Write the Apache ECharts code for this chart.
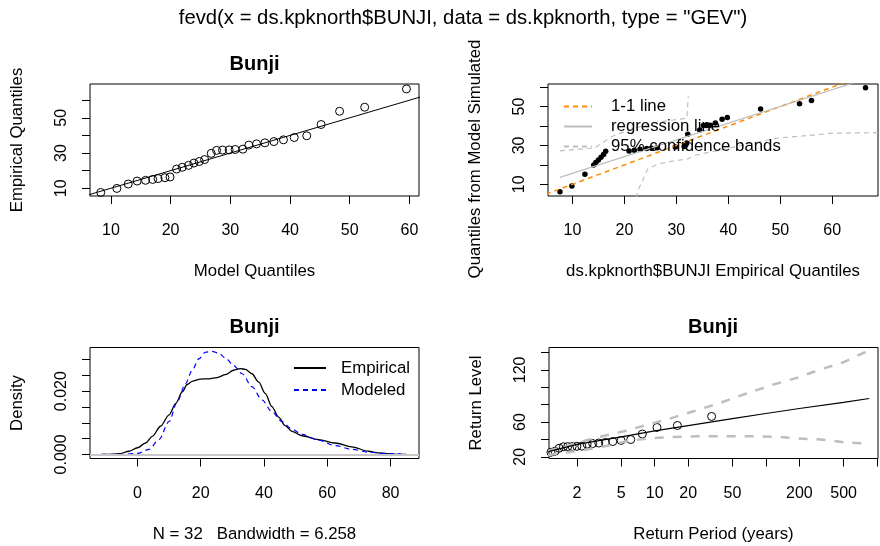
<!DOCTYPE html>
<html>
<head>
<meta charset="utf-8">
<script src="https://cdn.jsdelivr.net/npm/echarts@6/dist/echarts.min.js"></script>
<style>
html, body { margin: 0; padding: 0; background: #fff; }
#main { width: 880px; height: 546px; }
</style>
</head>
<body>
<div id="main"></div>
<script>
// sorted Bunji maxima (used by the qq plots and the return level plot)
var bunji = [7.6, 9.9, 12.4, 14.1, 14.5, 15.0, 15.5, 16.0, 16.4, 20.9, 21.9, 23.0, 24.3, 25.2, 26.3, 29.8,
    31.5, 31.7, 31.8, 32.0, 32.2, 34.5, 35.2, 35.8, 36.5, 37.5, 38.8, 39.8, 46.2, 53.7, 56.0, 66.4];
var modelQuantiles = [8.3, 11.0, 12.9, 14.4, 15.8, 17.0, 17.9, 19.05, 19.9, 21.0, 21.95, 23.0, 23.9, 24.8, 25.7, 26.8,
    27.7, 28.7, 29.8, 30.8, 32.1, 33.1, 34.4, 35.8, 37.3, 38.9, 40.7, 42.8, 45.2, 48.3, 52.5, 59.5];
var simulatedQuantiles = [6.2, 9.1, 15.2, 20.0, 21.2, 22.5, 23.9, 25.3, 27.0, 27.2, 27.5, 28.0, 28.4, 28.6, 28.8, 29.2,
    29.5, 29.8, 30.4, 31.2, 35.8, 38.0, 40.2, 40.3, 40.4, 41.6, 43.5, 44.4, 48.8, 51.4, 53.1, 59.7];
var diagonal = [0, 100];
var regressionLine = [[7.6, 13.6], [66.4, 64.2]];
var bandUpper = [[7.6, 27.2], [14.3, 28.8], [17.5, 34.5], [22.0, 39.0], [26.0, 41.8], [29.4, 43.1], [32.0, 44.0], [32.3, 55.2]];
var bandLower = [[22.2, 3.0], [22.6, 6.7], [24.5, 17.9], [26.5, 20.5], [29.7, 22.2], [32.2, 23.0], [33.8, 25.1],
    [40.0, 28.5], [49.2, 33.7], [54.0, 34.8], [60.1, 36.3], [68.8, 36.6]];

// density panel
var empiricalDensityX = [-11, -8.9, -5.8, -2.6, 0, 2.6, 4.7, 7.3, 10.0, 12.1, 14.2, 15.7, 17.3, 19.9, 22.6, 25.2, 27.8,
    30.4, 32.5, 34.1, 36.2, 38.3, 40.4, 42.5, 44.6, 46.7, 48.8, 52.0, 57.2, 62.5, 67.7, 73.0, 76.1, 80.3, 85];
var empiricalDensityY = [0, 0, 0.0002, 0.0010, 0.0021, 0.0036, 0.0057, 0.0089, 0.0125, 0.0161, 0.0198, 0.0221, 0.0231,
    0.0238, 0.0239, 0.0243, 0.0252, 0.0266, 0.0271, 0.0269, 0.0255, 0.0229, 0.0193, 0.0151, 0.0118, 0.0091, 0.0073,
    0.0059, 0.0047, 0.0036, 0.0024, 0.0010, 0.0005, 0.0001, 0];
var modeledDensityX = [-11.5, -4.7, 0, 3.7, 6.8, 10.0, 12.6, 15.2, 17.3, 19.4, 21.5, 23.6, 25.7, 27.8, 30.4, 33.1, 36.2,
    39.4, 42.5, 45.7, 48.8, 52.0, 57.2, 62.5, 67.7, 73.0, 78.2, 83.5];
var modeledDensityY = [0, 0, 0.0003, 0.0016, 0.0047, 0.0104, 0.0167, 0.0224, 0.0266, 0.0302, 0.0323, 0.0326, 0.0320,
    0.0305, 0.0281, 0.0255, 0.0214, 0.0172, 0.0135, 0.0104, 0.0080, 0.0063, 0.0045, 0.0028, 0.0016, 0.0007, 0.0003, 0.0001];

// return level panel
var returnPeriods = [0.286, 0.357, 0.417, 0.474, 0.530, 0.587, 0.645, 0.706, 0.770, 0.838, 0.910, 0.989, 1.073, 1.166,
    1.268, 1.381, 1.508, 1.650, 1.811, 1.997, 2.212, 2.466, 2.770, 3.140, 3.602, 4.195, 4.983, 6.087, 7.740, 10.49, 16.00, 32.50];
var rlPeriods = [1.1, 1.15, 2, 5, 10, 20, 50, 100, 200, 500, 850];
var rlLevels = [25.5, 26.5, 34.3, 42.8, 49.8, 55.8, 63.8, 69.8, 75.5, 82.5, 87.0];
var ciUpperPeriods = [1.1, 1.15, 2, 3, 5.26, 12.9, 22.4, 38.9, 63, 117, 190, 309, 500, 757, 850];
var ciUpper = [26.5, 27.5, 36, 42, 49.4, 62.9, 72.4, 82.0, 91.6, 103.1, 110.8, 120.4, 128.8, 139.6, 141.5];
var ciLowerPeriods = [1.1, 1.52, 2.46, 3.85, 5.63, 8.5, 13.8, 24, 42, 72, 126, 190, 309, 500, 757, 850];
var ciLower = [22.0, 24.6, 28.4, 33.0, 37.9, 41.0, 42.5, 43.7, 43.7, 43.7, 43.0, 41.0, 39.9, 36.8, 35.3, 35.0];

// ticks and labels
var qqTicks = [10, 20, 30, 40, 50, 60];
var qqYLabels = [10, 30, 50];
var densXTicks = [0, 20, 40, 60, 80];
var densYTicks = [0, 0.005, 0.010, 0.015, 0.020, 0.025, 0.030];
var densYLabels = [0, 0.020];
var rpTicks = [2, 5, 10, 20, 50, 100, 200, 500, 1000];
var rpLabels = [2, 5, 10, 20, 50, 200, 500];
var rlYTicks = [20, 40, 60, 80, 100, 120, 140];
var rlYLabels = [20, 60, 120];

function zip(xs, ys) {
    return xs.map(function (x, i) { return [x, ys[i]]; });
}

var FONT = '"Liberation Sans", Arial, sans-serif';

function makeAxis(opt) {
    var isY = opt.isY;
    return {
        type: opt.type || 'value',
        gridIndex: opt.grid,
        min: opt.min,
        max: opt.max,
        name: opt.name,
        nameLocation: 'middle',
        nameGap: isY ? 64 : 67,
        nameTextStyle: Object.assign({ color: '#000', fontSize: 16.8, fontFamily: FONT }, opt.nameStyle || {}),
        axisLine: { show: false, onZero: false },
        splitLine: { show: false },
        axisTick: { show: true, length: 8, lineStyle: { color: '#000' }, customValues: opt.ticks },
        axisLabel: {
            show: true,
            customValues: opt.labels,
            rotate: isY ? 90 : 0,
            margin: isY ? 20 : 27,
            color: '#000',
            fontSize: 16,
            fontFamily: FONT,
            formatter: opt.formatter
        }
    };
}

var chart = echarts.init(document.getElementById('main'), null, { renderer: 'canvas' });

var titleStyle = { color: '#000', fontSize: 20, fontWeight: 'bold', fontFamily: FONT };
var gridStyle = { show: true, borderColor: '#000', borderWidth: 1, backgroundColor: 'transparent', containLabel: false };
var hollow = { color: 'rgba(0,0,0,0)', borderColor: '#000', borderWidth: 1, opacity: 1 };

var option = {
    backgroundColor: '#fff',
    animation: false,
    title: [
        { text: 'fevd(x = ds.kpknorth$BUNJI, data = ds.kpknorth, type = "GEV")', left: 463, top: 8, padding: 0,
          textAlign: 'center', textStyle: { color: '#000', fontSize: 20.3, fontWeight: 'normal', fontFamily: FONT } },
        { text: 'Bunji', left: 254.5, top: 54, padding: 0, textAlign: 'center', textStyle: titleStyle },
        { text: 'Bunji', left: 254.5, top: 317, padding: 0, textAlign: 'center', textStyle: titleStyle },
        { text: 'Bunji', left: 713, top: 317, padding: 0, textAlign: 'center', textStyle: titleStyle }
    ],
    grid: [
        Object.assign({ left: 90, top: 84, width: 329, height: 112 }, gridStyle),
        Object.assign({ left: 548, top: 84, width: 330, height: 112 }, gridStyle),
        Object.assign({ left: 90, top: 347.5, width: 329, height: 111 }, gridStyle),
        Object.assign({ left: 549, top: 347.5, width: 329, height: 111 }, gridStyle)
    ],
    legend: [
        {
            data: ['1-1 line', 'regression line', '95% confidence bands'],
            orient: 'vertical', left: 563, top: 97.5, itemWidth: 28, itemHeight: 14, itemGap: 2,
            padding: 0, selectedMode: false, itemStyle: { opacity: 0 },
            textStyle: { color: '#000', fontSize: 16.8, fontFamily: FONT, lineHeight: 18, padding: [0, 0, 0, 14] }
        },
        {
            data: ['Empirical', 'Modeled'],
            orient: 'vertical', left: 293, top: 359, itemWidth: 32, itemHeight: 14, itemGap: 4,
            padding: 0, selectedMode: false, itemStyle: { opacity: 0 },
            textStyle: { color: '#000', fontSize: 16.8, fontFamily: FONT, lineHeight: 18, padding: [0, 0, 0, 10] }
        }
    ],
    xAxis: [
        makeAxis({ grid: 0, min: 6.5, max: 61.6, ticks: qqTicks, labels: qqTicks, name: 'Model Quantiles' }),
        makeAxis({ grid: 1, min: 5.3, max: 68.8, ticks: qqTicks, labels: qqTicks, name: 'ds.kpknorth$BUNJI Empirical Quantiles' }),
        makeAxis({ grid: 2, min: -15, max: 89, ticks: densXTicks, labels: densXTicks, name: 'N = 32   Bandwidth = 6.258' }),
        makeAxis({ grid: 3, type: 'log', min: 1.12, max: 1020, ticks: rpTicks, labels: rpLabels, name: 'Return Period (years)',
                   formatter: function (v) { return String(Math.round(v)); } })
    ],
    yAxis: [
        makeAxis({ grid: 0, isY: true, min: 5.6, max: 69.2, ticks: qqTicks, labels: qqYLabels, name: 'Empirical Quantiles' }),
        makeAxis({ grid: 1, isY: true, min: 4.0, max: 61.6, ticks: qqTicks, labels: qqYLabels, name: 'Quantiles from Model Simulated',
                   nameStyle: { padding: [0, 38, 0, 0] } }),
        makeAxis({ grid: 2, isY: true, min: -0.0013, max: 0.0338, ticks: densYTicks, labels: densYLabels, name: 'Density',
                   formatter: function (v) { return v.toFixed(3); } }),
        makeAxis({ grid: 3, isY: true, min: 18.0, max: 145.7, ticks: rlYTicks, labels: rlYLabels, name: 'Return Level' })
    ],
    series: [
        // panel 1: model vs empirical quantiles
        {
            type: 'line', xAxisIndex: 0, yAxisIndex: 0, data: zip(diagonal, diagonal), symbol: 'none',
            lineStyle: { color: '#000', width: 1 }, clip: true, silent: true
        },
        {
            type: 'scatter', xAxisIndex: 0, yAxisIndex: 0, data: zip(modelQuantiles, bunji), symbol: 'circle', symbolSize: 8,
            itemStyle: hollow
        },
        // panel 2: empirical vs simulated
        {
            name: '1-1 line', type: 'line', xAxisIndex: 1, yAxisIndex: 1, data: zip(diagonal, diagonal), symbol: 'none',
            itemStyle: { color: '#FF8C00' }, lineStyle: { color: '#FF8C00', width: 1.5, type: [5, 4] }, clip: true
        },
        {
            name: 'regression line', type: 'line', xAxisIndex: 1, yAxisIndex: 1, data: regressionLine, symbol: 'none',
            itemStyle: { color: '#BEBEBE' }, lineStyle: { color: '#BEBEBE', width: 1.2 }, clip: true
        },
        {
            name: '95% confidence bands', type: 'line', xAxisIndex: 1, yAxisIndex: 1, data: bandUpper, symbol: 'none',
            itemStyle: { color: '#BEBEBE' }, lineStyle: { color: '#BEBEBE', width: 1.2, type: [5, 4] }, clip: true
        },
        {
            name: '95% confidence bands', type: 'line', xAxisIndex: 1, yAxisIndex: 1, data: bandLower, symbol: 'none',
            itemStyle: { color: '#BEBEBE' }, lineStyle: { color: '#BEBEBE', width: 1.2, type: [5, 4] }, clip: true
        },
        {
            type: 'scatter', xAxisIndex: 1, yAxisIndex: 1, data: zip(bunji, simulatedQuantiles), symbol: 'circle', symbolSize: 5.5,
            itemStyle: { color: '#000', opacity: 1 }
        },
        // panel 3: densities
        {
            name: 'Empirical', type: 'line', xAxisIndex: 2, yAxisIndex: 2, data: zip(empiricalDensityX, empiricalDensityY),
            symbol: 'none', smooth: 0.3, smoothMonotone: 'x', itemStyle: { color: '#000' },
            lineStyle: { color: '#000', width: 1.3 }, clip: true,
            markLine: {
                silent: true, symbol: 'none', label: { show: false },
                lineStyle: { color: '#C8C8C8', width: 2, type: 'solid' },
                data: [{ yAxis: 0 }]
            }
        },
        {
            name: 'Modeled', type: 'line', xAxisIndex: 2, yAxisIndex: 2, data: zip(modeledDensityX, modeledDensityY),
            symbol: 'none', smooth: 0.3, smoothMonotone: 'x', itemStyle: { color: '#0000FF' },
            lineStyle: { color: '#0000FF', width: 1.2, type: [5, 4] }, clip: true
        },
        // panel 4: return levels
        {
            type: 'line', xAxisIndex: 3, yAxisIndex: 3, data: zip(ciUpperPeriods, ciUpper), symbol: 'none',
            lineStyle: { color: '#BEBEBE', width: 2.5, type: [9, 9] }, clip: true
        },
        {
            type: 'line', xAxisIndex: 3, yAxisIndex: 3, data: zip(ciLowerPeriods, ciLower), symbol: 'none',
            lineStyle: { color: '#BEBEBE', width: 2.5, type: [9, 9] }, clip: true
        },
        {
            type: 'line', xAxisIndex: 3, yAxisIndex: 3, data: zip(rlPeriods, rlLevels), symbol: 'none',
            lineStyle: { color: '#000', width: 1.2 }, clip: true
        },
        {
            type: 'scatter', xAxisIndex: 3, yAxisIndex: 3, data: zip(returnPeriods, bunji), symbol: 'circle', symbolSize: 8,
            itemStyle: hollow, clip: true
        }
    ]
};

chart.setOption(option);
</script>
</body>
</html>
